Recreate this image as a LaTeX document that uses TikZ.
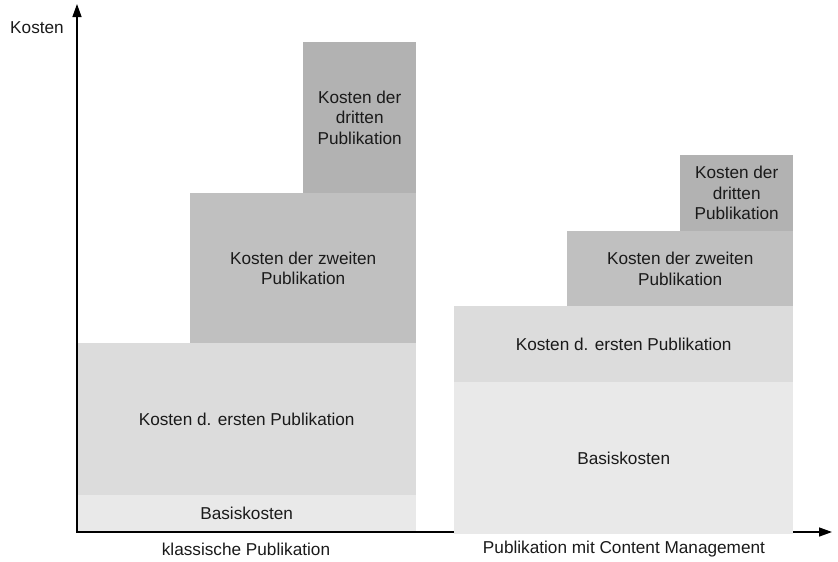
\documentclass[tikz,border=0pt]{standalone}
\usepackage{fontspec}
\setmainfont{Liberation Sans}
\usetikzlibrary{arrows.meta}
\definecolor{basisgray}{HTML}{E9E9E9}
\definecolor{firstgray}{HTML}{DCDCDC}
\definecolor{secondgray}{HTML}{C0C0C0}
\definecolor{thirdgray}{HTML}{B2B2B2}
\definecolor{txtgray}{HTML}{1A1A1A}
\begin{document}
\begin{tikzpicture}[x=1pt,y=-1pt,
  bar/.style={draw=none, anchor=north west, inner sep=0pt, align=center,
    font=\fontsize{17.2}{20.5}\selectfont, text=txtgray},
  axisline/.style={line width=1.4pt, -{Triangle[length=13pt,width=9pt]}},
  lbl/.style={font=\fontsize{17.2}{20}\selectfont, text=txtgray, inner sep=0pt}]
\useasboundingbox (0,0) rectangle (838,562);

% classic publishing: costs stack
\node[bar, fill=basisgray, minimum width=339pt, minimum height=36pt] (lbasis) at (77,495) {Basiskosten};
\node[bar, fill=firstgray, minimum width=339pt, minimum height=152pt] (lfirst) at (77,343) {Kosten d. ersten Publikation};
\node[bar, fill=secondgray, minimum width=226pt, minimum height=150pt] (lsecond) at (190,193) {Kosten der zweiten\\Publikation};
\node[bar, fill=thirdgray, minimum width=113pt, minimum height=151pt] (lthird) at (303,42) {Kosten der\\dritten\\Publikation};

% axes
\coordinate (origin) at (77,532);
\coordinate (ytip) at (77,4);
\coordinate (xtip) at (832,532);
\draw[axisline] (origin) -- (ytip);
\draw[axisline] ([xshift=-0.7pt]origin) -- (xtip);

% publishing with content management: costs stack
\node[bar, fill=basisgray, minimum width=339pt, minimum height=151.5pt] (rbasis) at (454,382) {Basiskosten};
\node[bar, fill=firstgray, minimum width=339pt, minimum height=76pt] (rfirst) at (454,306) {Kosten d. ersten Publikation};
\node[bar, fill=secondgray, minimum width=226pt, minimum height=75pt] (rsecond) at (567,231) {Kosten der zweiten\\Publikation};
\node[bar, fill=thirdgray, minimum width=113pt, minimum height=76pt] (rthird) at (680,155) {Kosten der\\dritten\\Publikation};

% labels
\node[lbl] (ylabel) at (37,28) {Kosten};
\node[lbl] (lcat) at (246,549) {klassische Publikation};
\node[lbl] (rcat) at (624,549) {Publikation mit Content Management};
\end{tikzpicture}
\end{document}
